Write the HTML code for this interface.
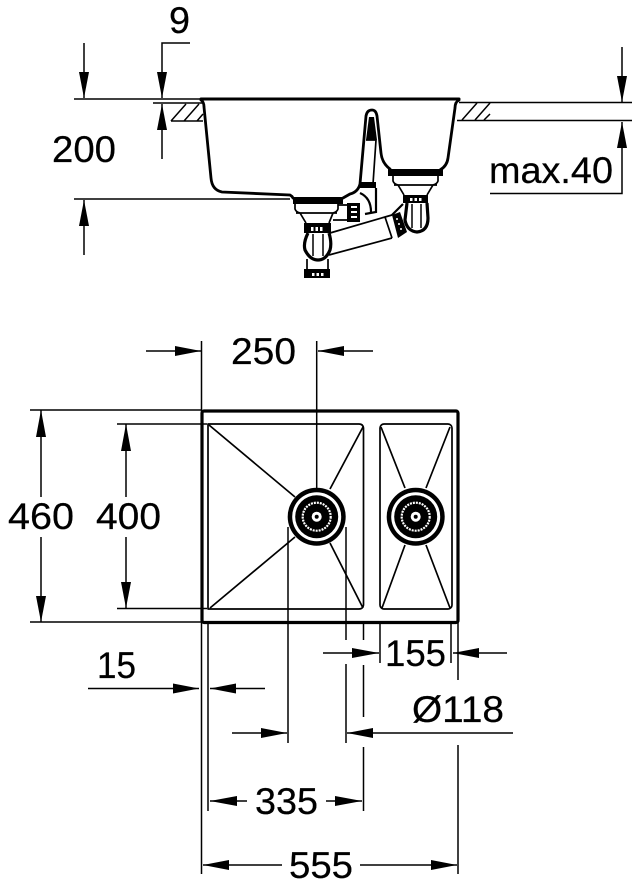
<!DOCTYPE html>
<html><head><meta charset="utf-8"><style>
html,body{margin:0;padding:0;background:#fff}
svg{display:block}
text{font-family:"Liberation Sans",sans-serif;font-size:37px;fill:#000;stroke:#000;stroke-width:.25px}
</style></head><body>
<svg width="633" height="880" viewBox="0 0 633 880" xmlns="http://www.w3.org/2000/svg">
<!-- thin lines -->
<g stroke="#000" stroke-width="1.500" fill="none">
<!-- top view dims -->
<path d="M84 43V98M74 99H201M84 255V200M74 199H290"/>
<path d="M190 43H162V98M153 103H203M162 104V159"/>
<path d="M459 102.500H632M457 120.500H632M622 47V102M622 122V193.500H490"/>
<!-- hatch -->
<path d="M171 121H203M171 121L186 104M184 121L199 104M197 121L203 114M462 120L477 103M475 120L490 103M484 120L490 114"/>
<!-- plan dims -->
<path d="M30 410H202M117 424H207M117 608.500H207M30 622H202"/>
<path d="M41 410V497M41 537V622M126 424V497M126 537V608"/>
<path d="M201.500 341V874M208 622V811M288 527V743M346 527V640M346 664V743M363.500 622V640M363.500 665V717M363.500 747V811M380 622V663M451 622V663M458 622V680M458 745V874"/>
<path d="M146 351H201M373 351H318M323 653H379M507 653H453M88 688.500H199M265 688.500H210M232 733H287M513 733H347M210 801H247M326 801H362M203 865H282M360 865H457"/>
<path d="M316.700 341V516"/>
</g>
<!-- arrowheads -->
<g fill="#000">
<polygon points="84,98 79,72 89,72"/><polygon points="84,200 79,226 89,226"/>
<polygon points="162,98 157,72 167,72"/><polygon points="162,104 157,130 167,130"/>
<polygon points="622,102 617,76 627,76"/><polygon points="622,122 617,148 627,148"/>
<polygon points="201,351 175,346 175,356"/><polygon points="318,351 344,346 344,356"/>
<polygon points="41,410 36,437 46,437"/><polygon points="41,622 36,596 46,596"/>
<polygon points="126,424 121,451 131,451"/><polygon points="126,608 121,582 131,582"/>
<polygon points="379,653 352,648 352,658"/><polygon points="453,653 479,648 479,658"/>
<polygon points="199,688.500 173,683.500 173,693.500"/><polygon points="210,688.500 236,683.500 236,693.500"/>
<polygon points="287,733 261,728 261,738"/><polygon points="347,733 373,728 373,738"/>
<polygon points="210,801 237,796 237,806"/><polygon points="362,801 335,796 335,806"/>
<polygon points="203,865 229,860 229,870"/><polygon points="457,865 431,860 431,870"/>
</g>
<!-- sink section -->
<g stroke="#000" fill="none" stroke-linejoin="round" stroke-linecap="round">
<path d="M201 99H459" stroke-width="3"/>
<path d="M201 100Q204 102 204 107L211 178Q212 190 222 192L290 195Q292 196 293 198" stroke-width="2.800"/>
<path d="M459 100Q455 102 455 108L448 158Q447 166 440 170" stroke-width="2.800"/>
<path d="M390 169Q382 163 381 153L377 116Q376 110 372 110Q367 110 366 116L360 184Q358 192 350 194L343 198" stroke-width="2.800"/>
</g>
<g fill="#000">
<path d="M369 117L374 117L377 140L366 140Z"/>
<rect x="293" y="197" width="50" height="7"/>
<rect x="388" y="169" width="55" height="7"/>
<rect x="304" y="223" width="27" height="10"/>
<rect x="304" y="269" width="26" height="9"/>
<rect x="403" y="195" width="25" height="8"/>
<rect x="360" y="182" width="16" height="6"/>
<rect x="347" y="203" width="13" height="19"/>
<polygon points="392,215 400,212 407,232 398,238"/>
</g>
<g fill="#fff"><rect x="311" y="227" width="2.500" height="4"/><rect x="315.500" y="227" width="2.500" height="4"/><rect x="320" y="227" width="2.500" height="4"/><rect x="312" y="273" width="2.500" height="3"/><rect x="316.500" y="273" width="2.500" height="3"/><rect x="321" y="273" width="2.500" height="3"/><rect x="410" y="198" width="2.500" height="3"/><rect x="414.500" y="198" width="2.500" height="3"/><rect x="419" y="198" width="2.500" height="3"/><rect x="351" y="206" width="6" height="2"/><rect x="351" y="211" width="6" height="2"/><rect x="351" y="216" width="6" height="2"/></g>
<g fill="#fff" transform="translate(0 0)"><circle cx="397" cy="219" r="1"/><circle cx="399" cy="224" r="1"/><circle cx="401" cy="229" r="1"/></g>
<g stroke="#000" fill="none" stroke-width="1.700">
<path d="M295 204V209Q296 212 300 213L306 223M338 204V209Q337 212 333 213L329 223M296 213H337"/>
<path d="M393 176V181Q394 184 398 185L404 195M438 176V181Q437 184 433 185L427 195M394 185H437"/>
<path d="M338 205H347M333 220L347 220M376 140L373 184"/>
<path d="M330 233L385 217L392 215M329 255L392 238"/>
<path d="M385 217L392 238M307 259V270M328 259V270"/>
<path d="M366 140H376"/>
</g>
<g stroke="#000" fill="none" stroke-width="2.200">
<path d="M376 188L376 212L365 214"/>
<path d="M360 193Q371 198 371 212"/>
<path d="M403 204L392 215"/>
</g>
<g stroke="#000" fill="none" stroke-width="3.200">
<path d="M308 233Q303 243 305 250Q310 260 318 260Q326 260 330 250Q332 243 329 233"/>
<path d="M407 203L405 220Q407 231 417 232Q428 231 428 218L427 203" />
</g>
<g stroke="#000" fill="none" stroke-width="1.500"><path d="M313 234V256M323 234V256M412 204V228M421 204V228"/></g>
<!-- plan view -->
<g stroke="#000" fill="none" stroke-linejoin="round">
<rect x="202" y="411" width="256" height="211.500" rx="2" stroke-width="3.200"/>
<path d="M208 424H359Q363 424 363.500 428V605Q363 609 359 609H208Z" stroke-width="1.700"/>
<rect x="380" y="424" width="72" height="185" rx="4" stroke-width="1.700"/>
<path d="M209 425L295 497M363 427L330 489M210 608L295 537M363 608L330 543M381 427L405 488M450 427L426 488M382 608L405 545M450 608L426 545" stroke-width="1.700"/>
</g>
<g>
<circle cx="316.700" cy="516.700" r="29" fill="#000"/>
<circle cx="316.700" cy="516.700" r="24.500" fill="#fff"/>
<circle cx="316.700" cy="516.700" r="21.500" fill="#000"/>
<circle cx="316.700" cy="516.700" r="14" fill="none" stroke="#fff" stroke-width="2.200" stroke-dasharray="2 1"/>
<circle cx="316.700" cy="516.700" r="5" fill="#fff"/>
<circle cx="316.700" cy="516.700" r="2" fill="#000"/>
<circle cx="415.700" cy="516.700" r="29" fill="#000"/>
<circle cx="415.700" cy="516.700" r="24.500" fill="#fff"/>
<circle cx="415.700" cy="516.700" r="21.500" fill="#000"/>
<circle cx="415.700" cy="516.700" r="14" fill="none" stroke="#fff" stroke-width="2.200" stroke-dasharray="2 1"/>
<circle cx="415.700" cy="516.700" r="5" fill="#fff"/>
<circle cx="415.700" cy="516.700" r="2" fill="#000"/>
</g>
<!-- labels -->
<text x="169" y="33" textLength="21" lengthAdjust="spacingAndGlyphs">9</text>
<text x="52" y="162" textLength="64" lengthAdjust="spacingAndGlyphs">200</text>
<text x="489" y="183" textLength="124" lengthAdjust="spacingAndGlyphs">max.40</text>
<text x="231" y="364" textLength="65" lengthAdjust="spacingAndGlyphs">250</text>
<text x="8" y="529" textLength="66" lengthAdjust="spacingAndGlyphs">460</text>
<text x="96" y="529" textLength="65" lengthAdjust="spacingAndGlyphs">400</text>
<text x="385" y="666" textLength="61" lengthAdjust="spacingAndGlyphs">155</text>
<text x="97" y="678" textLength="39" lengthAdjust="spacingAndGlyphs">15</text>
<text x="412" y="722" textLength="92" lengthAdjust="spacingAndGlyphs">Ø118</text>
<text x="255" y="814" textLength="63" lengthAdjust="spacingAndGlyphs">335</text>
<text x="289" y="878" textLength="64" lengthAdjust="spacingAndGlyphs">555</text>
</svg>
</body></html>
